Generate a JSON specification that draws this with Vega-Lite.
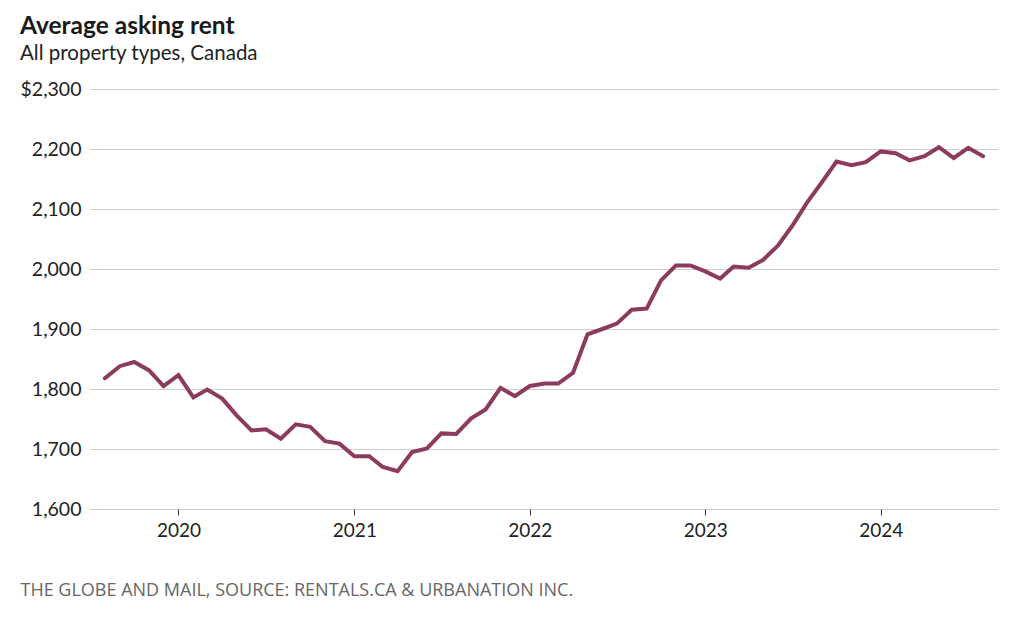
{
  "$schema": "https://vega.github.io/schema/vega-lite/v6.json",
  "width": 908,
  "height": 420,
  "autosize": {"type": "none"},
  "padding": {"left": 90, "top": 89, "right": 26, "bottom": 111},
  "background": "white",
  "title": {
    "text": "Average asking rent",
    "subtitle": "All property types, Canada",
    "anchor": "start",
    "frame": "group",
    "dx": -70,
    "offset": 14,
    "font": "Lato",
    "fontSize": 24.5,
    "fontWeight": "bold",
    "color": "#1a1a1a",
    "subtitleFont": "Lato",
    "subtitleFontSize": 20.5,
    "subtitleColor": "#222",
    "subtitlePadding": 4
  },
  "config": {
    "view": {"stroke": null},
    "axis": {"labelFont": "Lato", "titleFont": "Lato"}
  },
  "data": {
    "values": [
      {"date": "2019-08-01", "rent": 1818},
      {"date": "2019-09-01", "rent": 1838},
      {"date": "2019-10-01", "rent": 1845},
      {"date": "2019-11-01", "rent": 1831},
      {"date": "2019-12-01", "rent": 1805},
      {"date": "2020-01-01", "rent": 1823},
      {"date": "2020-02-01", "rent": 1786},
      {"date": "2020-03-01", "rent": 1799},
      {"date": "2020-04-01", "rent": 1784},
      {"date": "2020-05-01", "rent": 1756},
      {"date": "2020-06-01", "rent": 1731},
      {"date": "2020-07-01", "rent": 1733},
      {"date": "2020-08-01", "rent": 1717},
      {"date": "2020-09-01", "rent": 1741},
      {"date": "2020-10-01", "rent": 1737},
      {"date": "2020-11-01", "rent": 1713},
      {"date": "2020-12-01", "rent": 1709},
      {"date": "2021-01-01", "rent": 1688},
      {"date": "2021-02-01", "rent": 1688},
      {"date": "2021-03-01", "rent": 1670},
      {"date": "2021-04-01", "rent": 1663},
      {"date": "2021-05-01", "rent": 1695},
      {"date": "2021-06-01", "rent": 1701},
      {"date": "2021-07-01", "rent": 1726},
      {"date": "2021-08-01", "rent": 1725},
      {"date": "2021-09-01", "rent": 1751},
      {"date": "2021-10-01", "rent": 1766},
      {"date": "2021-11-01", "rent": 1802},
      {"date": "2021-12-01", "rent": 1788},
      {"date": "2022-01-01", "rent": 1805},
      {"date": "2022-02-01", "rent": 1809},
      {"date": "2022-03-01", "rent": 1809},
      {"date": "2022-04-01", "rent": 1827},
      {"date": "2022-05-01", "rent": 1891},
      {"date": "2022-06-01", "rent": 1900},
      {"date": "2022-07-01", "rent": 1909},
      {"date": "2022-08-01", "rent": 1932},
      {"date": "2022-09-01", "rent": 1934},
      {"date": "2022-10-01", "rent": 1981},
      {"date": "2022-11-01", "rent": 2006},
      {"date": "2022-12-01", "rent": 2006},
      {"date": "2023-01-01", "rent": 1996},
      {"date": "2023-02-01", "rent": 1984},
      {"date": "2023-03-01", "rent": 2004},
      {"date": "2023-04-01", "rent": 2002},
      {"date": "2023-05-01", "rent": 2015},
      {"date": "2023-06-01", "rent": 2039},
      {"date": "2023-07-01", "rent": 2072},
      {"date": "2023-08-01", "rent": 2111},
      {"date": "2023-09-01", "rent": 2145},
      {"date": "2023-10-01", "rent": 2179},
      {"date": "2023-11-01", "rent": 2173},
      {"date": "2023-12-01", "rent": 2178},
      {"date": "2024-01-01", "rent": 2196},
      {"date": "2024-02-01", "rent": 2193},
      {"date": "2024-03-01", "rent": 2181},
      {"date": "2024-04-01", "rent": 2188},
      {"date": "2024-05-01", "rent": 2203},
      {"date": "2024-06-01", "rent": 2185},
      {"date": "2024-07-01", "rent": 2202},
      {"date": "2024-08-01", "rent": 2188}
    ]
  },
  "mark": {"type": "line", "color": "#8c3b5f", "strokeWidth": 4, "strokeJoin": "miter", "strokeCap": "round"},
  "encoding": {
    "x": {
      "field": "date",
      "type": "temporal",
      "scale": {
        "type": "utc",
        "domain": [
          {"year": 2019, "month": 7, "date": 1, "utc": true},
          {"year": 2024, "month": 9, "date": 1, "utc": true}
        ]
      },
      "axis": {
        "values": [
          {"year": 2020, "month": 1, "date": 1, "utc": true},
          {"year": 2021, "month": 1, "date": 1, "utc": true},
          {"year": 2022, "month": 1, "date": 1, "utc": true},
          {"year": 2023, "month": 1, "date": 1, "utc": true},
          {"year": 2024, "month": 1, "date": 1, "utc": true}
        ],
        "format": "%Y",
        "grid": false,
        "domain": false,
        "ticks": true,
        "tickSize": 6,
        "tickColor": "#333",
        "tickWidth": 1,
        "labelFontSize": 19,
        "labelColor": "#222",
        "labelPadding": 6,
        "title": "THE GLOBE AND MAIL, SOURCE: RENTALS.CA & URBANATION INC.",
        "titleFont": "Open Sans",
        "titleFontSize": 18,
        "titleFontWeight": "normal",
        "titleColor": "#666",
        "titleAnchor": "start",
        "titleAlign": "left",
        "titleBaseline": "alphabetic",
        "titleX": -70,
        "titleY": 86
      }
    },
    "y": {
      "field": "rent",
      "type": "quantitative",
      "scale": {"domain": [1600, 2300], "nice": false, "zero": false},
      "axis": {
        "values": [1600, 1700, 1800, 1900, 2000, 2100, 2200, 2300],
        "labelExpr": "datum.value == 2300 ? '$2,300' : format(datum.value, ',')",
        "grid": true,
        "gridColor": "#cfcfcf",
        "gridWidth": 1,
        "domain": false,
        "ticks": false,
        "labelFontSize": 19.5,
        "labelColor": "#222",
        "labelPadding": 9,
        "title": null
      }
    }
  }
}
